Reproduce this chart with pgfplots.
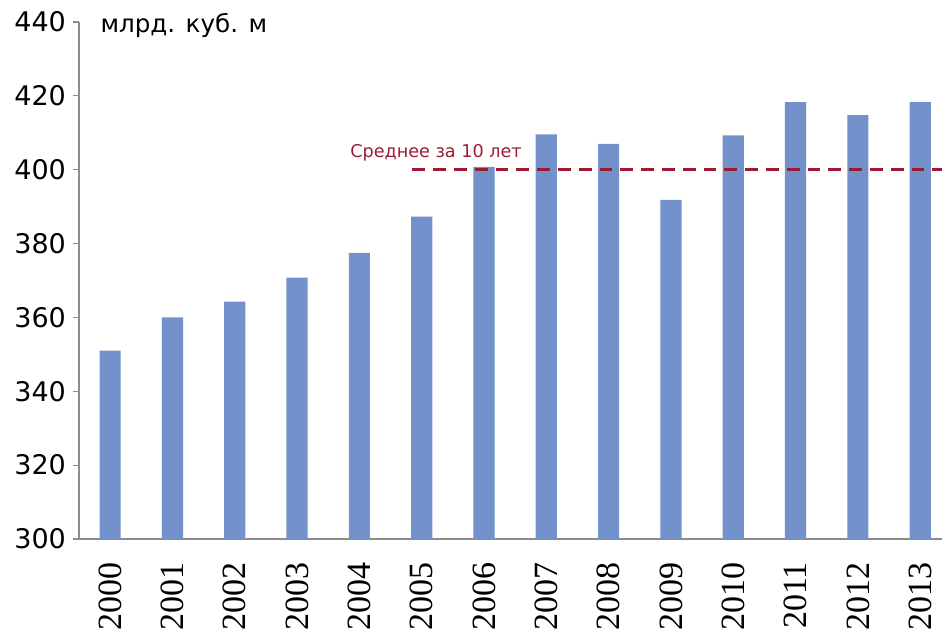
\documentclass[border=0pt]{standalone}
\usepackage{pgfplots}
\pgfplotsset{compat=1.18}
\usepackage{fontspec}
\setmainfont{DejaVu Sans}
\newfontfamily\serifx{Liberation Serif}
\definecolor{barblue}{RGB}{115,145,203}
\definecolor{avgred}{RGB}{155,27,48}
\definecolor{axgray}{RGB}{140,140,140}
\begin{document}
\begin{tikzpicture}
\useasboundingbox (0,0) rectangle (471pt,316.5pt);
\begin{axis}[
  at={(39.5pt,47pt)}, anchor=south west,
  scale only axis, width=431.5pt, height=258.5pt,
  xmin=-0.5, xmax=13.35, ymin=300, ymax=440,
  ytick={300,320,...,440},
  xtick={0,...,13},
  xticklabels={2000,2001,2002,2003,2004,2005,2006,2007,2008,2009,2010,2011,2012,2013},
  axis x line*=bottom, axis y line*=left,
  axis line style={draw=axgray, line width=0.6pt},
  tick align=outside, major tick length=3pt,
  ytick style={draw=axgray, line width=0.6pt},
  xtick style={draw=none},
  /pgf/number format/assume math mode=true,
  yticklabel style={font=\fontsize{13.5}{15}\selectfont, xshift=0pt},
  xticklabel style={yshift=-5pt, rotate=90, anchor=east, font=\serifx\fontsize{17}{18}\selectfont},
  clip=false,
]
\addplot[ybar, bar width=0.34, fill=barblue, draw=none] coordinates {
(0,351) (1,360) (2,364.3) (3,370.8) (4,377.5) (5,387.3) (6,400.8)
(7,409.6) (8,407) (9,391.8) (10,409.3) (11,418.3) (12,414.8) (13,418.3)};
\addplot[avgred, line width=1.25pt, dash pattern=on 6.4pt off 4pt] coordinates {(4.85,400) (13.35,400)};
\node[anchor=base west, text=avgred, font=\fontsize{8.8}{11}\selectfont, inner sep=0pt] at (axis cs:3.85,403.2) {Среднее за 10 лет};
\node[anchor=base west, font=\fontsize{12.3}{14}\selectfont, inner sep=0pt] at (axis cs:-0.16,437.1) {млрд. куб. м};
\end{axis}
\end{tikzpicture}
\end{document}
